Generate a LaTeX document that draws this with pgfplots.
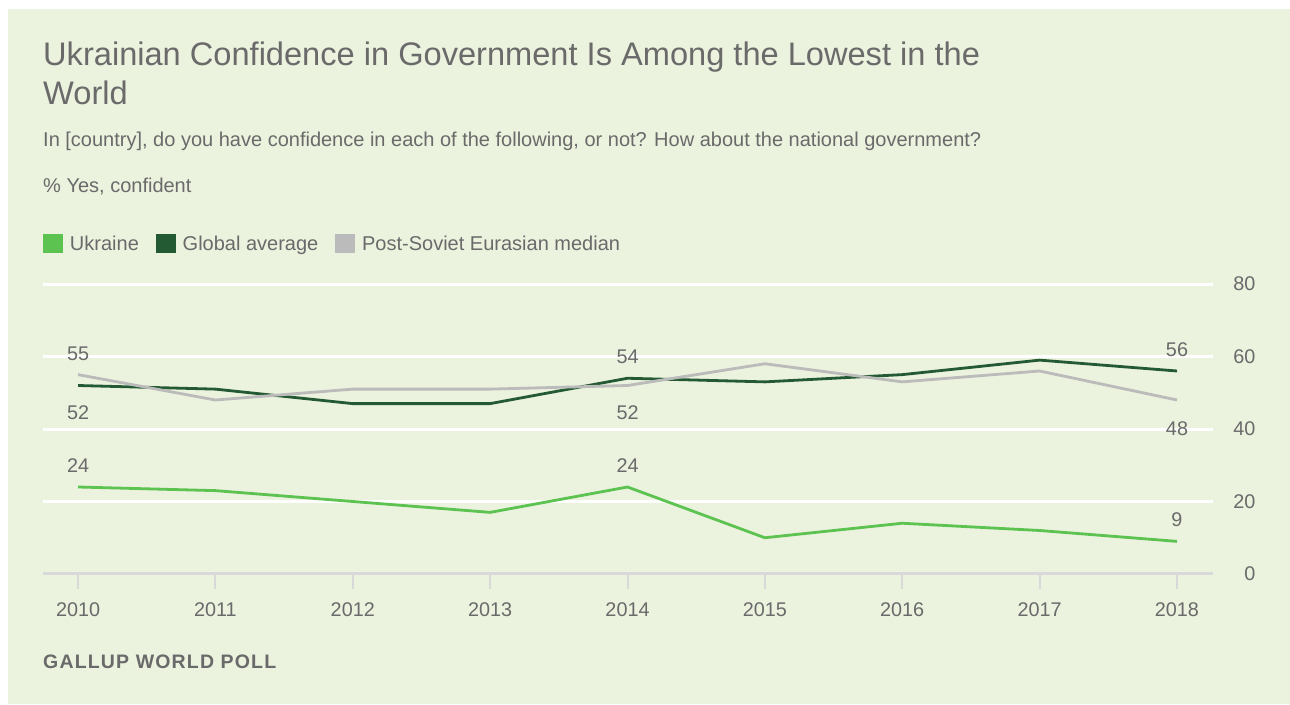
\documentclass[border=0pt]{standalone}
\usepackage{pgfplots}
\pgfplotsset{compat=1.18}
\usepackage{fontspec}
\setmainfont{Liberation Sans}

\definecolor{bg}{HTML}{EBF2DE}
\definecolor{txt}{HTML}{6A6A6A}
\definecolor{ukr}{HTML}{5CC250}
\definecolor{glob}{HTML}{245A33}
\definecolor{psov}{HTML}{BBBBBB}
\definecolor{axgray}{HTML}{D9D9D9}

\newcommand{\lab}{\fontsize{19.8}{22}\selectfont}

\begin{document}
\begin{tikzpicture}[x=1pt,y=1pt]
\useasboundingbox (0,0) rectangle (1290,704);
\fill[white] (0,0) rectangle (1290,704);
\fill[bg] (8,0) rectangle (1290,695);

% titles
\node[anchor=base west, inner sep=0, text=txt, font=\fontsize{32.6}{36}\selectfont] at (43,638)
  {Ukrainian Confidence in Government Is Among the Lowest in the};
\node[anchor=base west, inner sep=0, text=txt, font=\fontsize{32.6}{36}\selectfont] at (43,599) {World};
\node[anchor=base west, inner sep=0, text=txt, font=\fontsize{20}{22}\selectfont] at (43,557)
  {In [country], do you have confidence in each of the following, or not? How about the national government?};
\node[anchor=base west, inner sep=0, text=txt, font=\fontsize{20}{22}\selectfont] at (43,511) {\% Yes, confident};
\node[anchor=base west, inner sep=0, text=txt, font=\bfseries\fontsize{19.5}{21}\selectfont\addfontfeatures{LetterSpace=6}] at (43,35) {GALLUP WORLD POLL};

\begin{axis}[
  at={(43pt,130pt)}, anchor=south west,
  scale only axis, width=1170pt, height=290pt,
  xmin=2009.745, xmax=2018.262, ymin=0, ymax=80,
  axis x line*=bottom, axis y line*=right,
  y axis line style={draw=none},
  x axis line style={axgray, line width=3pt},
  xtick={2010,2011,...,2018},
  ytick={0,20,40,60,80},
  ymajorgrids, grid style={white, line width=3pt},
  tick align=outside, major tick length=15pt,
  x tick style={axgray, line width=2pt},
  y tick style={draw=none},
  /pgf/number format/1000 sep={},
  /pgf/number format/assume math mode=true,
  tick label style={text=txt, font=\lab},
  yticklabel style={anchor=east, xshift=31pt},
  xticklabel style={yshift=-10pt},
  legend style={draw=none, fill=none, at={(axis description cs:0,1.1397)}, anchor=west,
    legend columns=-1, font=\fontsize{20}{22}\selectfont, text=txt, inner sep=0pt,
    /tikz/every odd column/.append style={column sep=7pt},
    /tikz/every even column/.append style={column sep=17pt},
    nodes={inner sep=0pt}},
  legend image code/.code={\fill[#1] (0pt,-7.5pt) rectangle (17pt,9.5pt);},
  clip=false,
]
\addplot[color=ukr, line width=2.8pt] coordinates {
  (2010,24) (2011,23) (2012,20) (2013,17) (2014,24) (2015,10) (2016,14) (2017,12) (2018,9)};
\addlegendentry{Ukraine}
\addplot[color=glob, line width=2.8pt] coordinates {
  (2010,52) (2011,51) (2012,47) (2013,47) (2014,54) (2015,53) (2016,55) (2017,59) (2018,56)};
\addlegendentry{Global average}
\addplot[color=psov, line width=2.8pt] coordinates {
  (2010,55) (2011,48) (2012,51) (2013,51) (2014,52) (2015,58) (2016,53) (2017,56) (2018,48)};
\addlegendentry{Post-Soviet Eurasian median}

\begin{scope}[every node/.style={text=txt, font=\lab, inner sep=0pt}]
\node at (axis cs:2010,55) [yshift=21pt] {55};
\node at (axis cs:2010,52) [yshift=-27.5pt] {52};
\node at (axis cs:2010,24) [yshift=21pt] {24};
\node at (axis cs:2014,54) [yshift=21pt] {54};
\node at (axis cs:2014,52) [yshift=-27.5pt] {52};
\node at (axis cs:2014,24) [yshift=21pt] {24};
\node at (axis cs:2018,56) [yshift=21pt] {56};
\node at (axis cs:2018,48) [yshift=-29pt] {48};
\node at (axis cs:2018,9) [yshift=22pt] {9};
\end{scope}
\end{axis}
\end{tikzpicture}
\end{document}
